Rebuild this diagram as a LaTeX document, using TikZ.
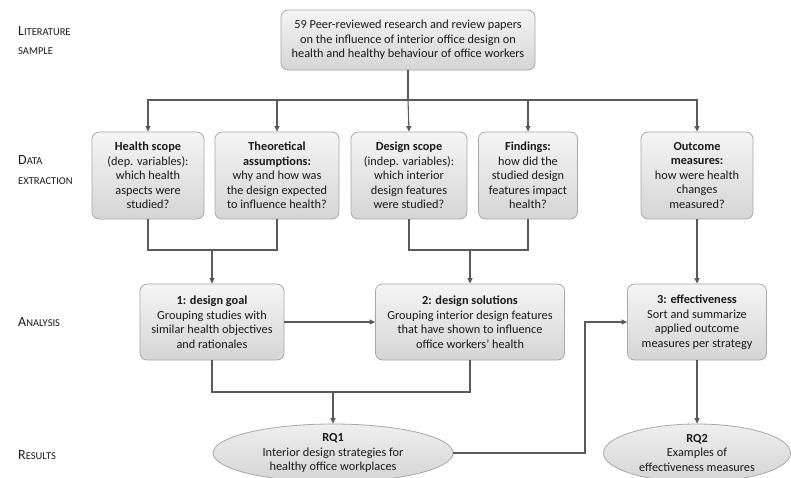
\documentclass[tikz,border=0pt]{standalone}
\usepackage{fontspec}
\setmainfont{Carlito}
\usetikzlibrary{shapes.geometric,arrows.meta}
\definecolor{lnc}{HTML}{5A5A5A}
\definecolor{bdc}{HTML}{A8A8A8}
\definecolor{topc}{HTML}{F5F5F5}
\definecolor{botc}{HTML}{D5D5D5}
\definecolor{txc}{HTML}{1A1A1A}
\newcommand{\fsc}[2]{{\fontsize{14}{16}\selectfont #1}{\fontsize{10.5}{16}\selectfont #2}}
\begin{document}
\begin{tikzpicture}[x=1pt,y=-1pt,
  box/.style={draw=bdc, line width=0.8pt, rounded corners=7pt, top color=topc, bottom color=botc,
    inner sep=0pt, align=center, text=txc, font=\fontsize{12.3}{14.5}\selectfont},
  oval/.style={ellipse, draw=bdc, line width=0.8pt, top color=topc!80!botc, bottom color=botc,
    inner sep=0pt, align=center, text=txc, font=\fontsize{12.3}{14.5}\selectfont},
  lbl/.style={anchor=west, inner sep=0pt, text=txc, align=left},
  line/.style={draw=lnc, line width=1.1pt},
  arr/.style={line, -{Triangle[length=5.5pt,width=5pt]}}]
\useasboundingbox (0,0) rectangle (791,477);
\fill[white] (0,0) rectangle (791,477);

% side labels
\node[lbl] (l1) at (18,31) {\fsc{L}{ITERATURE}};
\node[lbl] (l2) at (18,51) {\fsc{}{SAMPLE}};
\node[lbl] (l3) at (18,160) {\fsc{D}{ATA}};
\node[lbl] (l4) at (18,181) {\fsc{}{EXTRACTION}};
\node[lbl] (l5) at (18,322) {\fsc{A}{NALYSIS}};
\node[lbl] (l6) at (18,455) {\fsc{R}{ESULTS}};

% boxes
\node[box, minimum width=254pt, minimum height=60pt] (top) at (408,40)
  {59 Peer-reviewed research and review papers\\on the influence of interior office design on\\health and healthy behaviour of office workers};

\node[box, minimum width=112pt, minimum height=87pt] (hs) at (148,175.5)
  {\textbf{Health scope}\\(dep. variables):\\which health\\aspects were\\studied?};
\node[box, minimum width=124pt, minimum height=87pt] (ta) at (277,175.5)
  {\textbf{Theoretical}\\\textbf{assumptions:}\\why and how was\\the design expected\\to influence health?};
\node[box, minimum width=116pt, minimum height=87pt] (ds) at (409,175.5)
  {\textbf{Design scope}\\(indep. variables):\\which interior\\design features\\were studied?};
\node[box, minimum width=99pt, minimum height=87pt] (fi) at (528,175.5)
  {\textbf{Findings:}\\how did the\\studied design\\features impact\\health?};
\node[box, minimum width=112pt, minimum height=87pt] (om) at (697,175.5)
  {\textbf{Outcome}\\\textbf{measures:}\\how were health\\changes\\measured?};

\node[box, minimum width=144pt, minimum height=76pt] (g1) at (212,322)
  {\textbf{1: design goal}\\Grouping studies with\\similar health objectives\\and rationales};
\node[box, minimum width=189pt, minimum height=76pt] (g2) at (470,322)
  {\textbf{2: design solutions}\\Grouping interior design features\\that have shown to influence\\office workers’ health};
\node[box, minimum width=139pt, minimum height=76pt] (g3) at (697,322)
  {\textbf{3: effectiveness}\\Sort and summarize\\applied outcome\\measures per strategy};

\node[oval, minimum width=240pt, minimum height=58pt] (rq1) at (333,453)
  {\textbf{RQ1}\\Interior design strategies for\\healthy office workplaces};
\node[oval, minimum width=187pt, minimum height=58pt] (rq2) at (697,453)
  {\textbf{RQ2}\\Examples of\\effectiveness measures};

% connectors
\coordinate (j1) at (408,100);
\draw[line] (top) -- (j1);
\draw[arr] (j1) -| (hs.north);
\draw[arr] (j1) -| (ta.north);
\draw[arr] (j1) -- (ds.north);
\draw[arr] (j1) -| (fi.north);
\draw[arr] (j1) -| (om.north);

\coordinate (m1) at (212,250);
\coordinate (m2) at (470,250);
\draw[line] (hs.south) |- (m1) -| (ta.south);
\draw[arr] (m1) -- (g1.north);
\draw[line] (ds.south) |- (m2) -| (fi.south);
\draw[arr] (m2) -- (g2.north);
\draw[arr] (om.south) -- (g3.north);

\draw[arr] (g1.east) -- (g2.west);

\coordinate (m3) at (333,392);
\draw[line] (g1.south) |- (m3) -| (g2.south);
\draw[arr] (m3) -- (rq1.north);

\coordinate (c1) at (585,453);
\draw[arr] (rq1.east) -- (c1) |- (g3.west);
\draw[arr] (g3.south) -- (rq2.north);
\end{tikzpicture}
\end{document}
